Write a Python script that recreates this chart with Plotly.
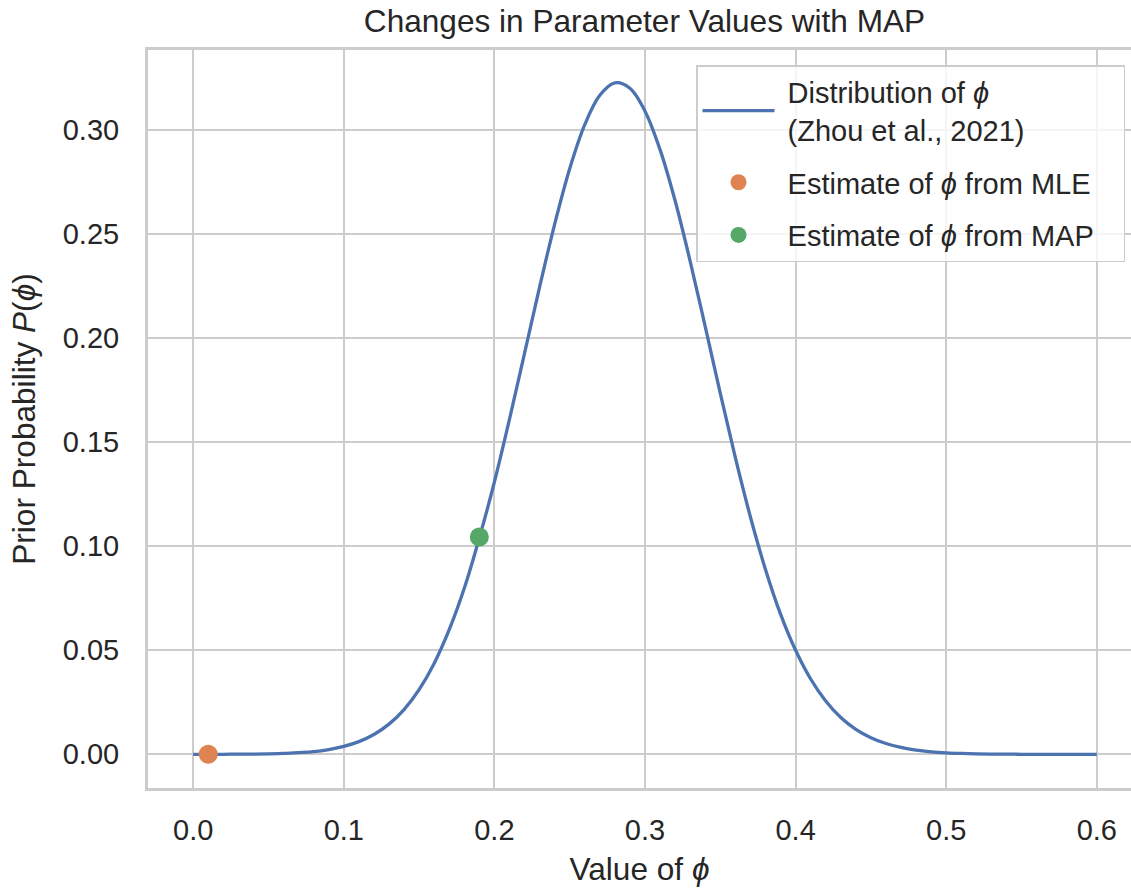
import plotly.graph_objects as go

# ---- data ----
phi_grid = [round(i * 0.01, 2) for i in range(61)]  # 0.00 .. 0.60
prior_prob = [
    0.0000, 0.0000, 0.0000, 0.0001, 0.0001, 0.0002, 0.0004, 0.0008, 0.0013, 0.0023,
    0.0038, 0.0061, 0.0095, 0.0145, 0.0215, 0.0311, 0.0437, 0.0599, 0.0798, 0.1040,
    0.1309, 0.1610, 0.1927, 0.2246, 0.2548, 0.2815, 0.3027, 0.3168, 0.3228, 0.3202,
    0.3092, 0.2907, 0.2661, 0.2370, 0.2056, 0.1735, 0.1426, 0.1141, 0.0889, 0.0674,
    0.0500, 0.0362, 0.0256, 0.0177, 0.0120, 0.0080, 0.0052, 0.0033, 0.0020, 0.0012,
    0.0007, 0.0004, 0.0002, 0.0001, 0.0001, 0.0000, 0.0000, 0.0000, 0.0000, 0.0000, 0.0000,
]
mle_phi = [0.01]
mle_prob = [0.0]
map_phi = [0.19]
map_prob = [0.1045]

x_ticks = [0.0, 0.1, 0.2, 0.3, 0.4, 0.5, 0.6]
y_ticks = [0.00, 0.05, 0.10, 0.15, 0.20, 0.25, 0.30]

FONT = "Liberation Sans, Arial, Helvetica, DejaVu Sans, sans-serif"
TXT = "#262626"
GRID = "#cccccc"
W, H = 1131, 893
L, R, T, B = 148, 0, 50, 105
NB = "\u00a0"

fig = go.Figure()
fig.add_trace(go.Scatter(
    x=phi_grid, y=prior_prob, mode="lines",
    line=dict(color="#4c72b0", width=3.3, shape="spline", smoothing=1.0),
    name=NB + "Distribution of <i>ϕ</i><br>" + NB + "(Zhou et al., 2021)",
    legendgroup="a",
))
fig.add_trace(go.Scatter(
    x=mle_phi, y=mle_prob, mode="markers",
    marker=dict(color="#dd8452", size=19),
    name=NB + "Estimate of <i>ϕ</i> from MLE", legendgroup="b",
))
fig.add_trace(go.Scatter(
    x=map_phi, y=map_prob, mode="markers",
    marker=dict(color="#55a868", size=19),
    name=NB + "Estimate of <i>ϕ</i> from MAP" + NB * 3, legendgroup="c",
))

fig.update_layout(
    width=W, height=H,
    margin=dict(l=L, r=R, t=T, b=B, pad=0),
    paper_bgcolor="white", plot_bgcolor="white",
    font=dict(family=FONT, color=TXT, size=29),
    title=dict(
        text="Changes in Parameter Values with MAP",
        font=dict(size=31.6, color=TXT),
        xref="container", x=644.5 / W, xanchor="center",
        yref="container", y=1 - 21 / H, yanchor="middle",
    ),
    xaxis=dict(
        range=[-0.03, 0.6227], tickvals=x_ticks, tickformat=".1f",
        showgrid=True, gridcolor=GRID, gridwidth=2, zeroline=False,
        showline=True, linecolor=GRID, linewidth=3, mirror=True,
        ticks="", ticklabelstandoff=14,
        tickfont=dict(size=29, color=TXT),
        title=dict(text="Value of <i>ϕ</i>", font=dict(size=31.6, color=TXT), standoff=14),
    ),
    yaxis=dict(
        range=[-0.0162, 0.3386], tickvals=y_ticks, tickformat=".2f",
        showgrid=True, gridcolor=GRID, gridwidth=2, zeroline=False,
        showline=True, linecolor=GRID, linewidth=3, mirror=False,
        ticks="", ticklabelstandoff=20,
        tickfont=dict(size=29, color=TXT),
        title=dict(text="Prior Probability <i>P</i>(<i>ϕ</i>)", font=dict(size=31.6, color=TXT), standoff=18),
    ),
    legend=dict(
        x=(696 - L) / (W - L - R), y=(H - B - 65) / (H - T - B),
        xanchor="left", yanchor="top",
        bgcolor="rgba(255,255,255,0.8)", bordercolor=GRID, borderwidth=1.5,
        font=dict(size=29, color=TXT),
        traceorder="grouped", tracegroupgap=12,
        itemwidth=72,
    ),
    showlegend=True,
)

fig.write_html("out.html")
